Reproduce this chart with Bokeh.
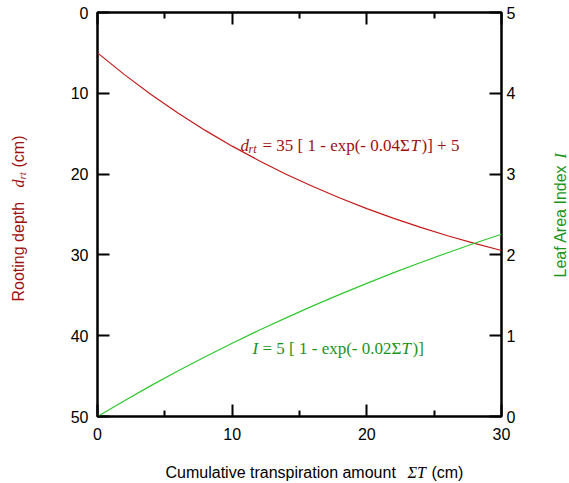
from bokeh.plotting import figure
from bokeh.models import Range1d, LinearAxis, FixedTicker, Label
from bokeh.embed import file_html
from bokeh.resources import INLINE
from math import pi

# ---- data ----
transpiration = [0, 2, 4, 6, 8, 10, 12, 14, 16, 18, 20, 22, 24, 26, 28, 30]
rooting_depth = [5.0, 7.69, 10.18, 12.47, 14.59, 16.54, 18.34, 20.01, 21.54, 22.96,
                 24.27, 25.48, 26.60, 27.63, 28.58, 29.46]
leaf_area_index = [0.0, 0.196, 0.385, 0.566, 0.739, 0.906, 1.067, 1.221, 1.369, 1.512,
                   1.648, 1.780, 1.906, 2.027, 2.144, 2.256]
depth_ticks = [0, 10, 20, 30, 40, 50]
lai_ticks = [0, 1, 2, 3, 4, 5]
x_ticks = [0, 10, 20, 30]
x_minor_ticks = [5, 15, 25]

W, H = 569, 483
L, R, T, B = 97, 501, 12, 416
XMAX, YMAX = 30.0, 50.0

RED_TXT = "#9e1010"
RED_LINE = "#c41a1a"
GRN_TXT = "#1a941a"
GRN_LINE = "#30c830"
SANS = "Liberation Sans"
SERIF = "Liberation Serif"

p = figure(width=W, height=H, output_backend="svg", toolbar_location=None,
           x_range=Range1d(0, XMAX), y_range=Range1d(YMAX, 0),
           min_border_left=L, min_border_right=W - R,
           min_border_top=T, min_border_bottom=H - B,
           x_axis_location=None, y_axis_location=None)
p.extra_y_ranges = {"lai": Range1d(0, 5)}
p.grid.visible = False
p.outline_line_color = "black"
p.outline_line_width = 2.5
p.background_fill_color = "white"
p.border_fill_color = "white"

common = dict(axis_line_color=None, major_tick_out=0, minor_tick_out=0,
              major_tick_line_color="black", minor_tick_line_color="black",
              major_tick_line_width=2, minor_tick_line_width=2,
              major_label_text_font=SANS, major_label_text_font_size="16px",
              major_label_text_color="black")

left = LinearAxis(ticker=FixedTicker(ticks=depth_ticks), major_tick_in=12,
                  minor_tick_in=0, major_label_standoff=9, **common)
p.add_layout(left, "left")
right = LinearAxis(y_range_name="lai", ticker=FixedTicker(ticks=lai_ticks),
                   major_tick_in=12, minor_tick_in=0, major_label_standoff=5, **common)
p.add_layout(right, "right")
bottom = LinearAxis(ticker=FixedTicker(ticks=x_ticks, minor_ticks=x_minor_ticks),
                    major_tick_in=12, minor_tick_in=6, major_label_standoff=11, **common)
p.add_layout(bottom, "below")
top = LinearAxis(ticker=FixedTicker(ticks=x_ticks, minor_ticks=x_minor_ticks),
                 major_tick_in=12, minor_tick_in=6, major_label_standoff=0, **common)
top.major_label_overrides = {t: "" for t in x_ticks}
p.add_layout(top, "above")

p.line(transpiration, rooting_depth, line_color=RED_LINE, line_width=1.2)
p.line(transpiration, leaf_area_index, y_range_name="lai", line_color=GRN_LINE, line_width=1.2)


def lab(text, X, Y, font=SANS, size=16, color="black", style="normal", angle=0.0,
        place="center"):
    # canvas pixel position -> data position through the plot's own linear scales
    xd = (X - L) / (R - L) * XMAX
    yd = (Y - T) / (B - T) * YMAX
    lbl = Label(x=xd, y=yd, text=text,
                text_font=font, text_font_size=f"{size}px", text_color=color,
                text_font_style=style, angle=angle, text_align="left",
                text_baseline="alphabetic")
    p.add_layout(lbl, place)


NB = "\u00a0"
# x axis label
lab("Cumulative transpiration amount" + NB * 8 + "(cm)", 165, 472, place="below")
lab("\u03a3T", 407, 472, font=SERIF, size=16, style="italic", place="below")

# left axis label (rotated)
lab("Rooting depth", 18, 301, color=RED_TXT, angle=pi / 2, place="left")
lab("d", 18, 187, font=SERIF, size=16, color=RED_TXT, style="italic", angle=pi / 2, place="left")
lab("rt", 21, 179, font=SERIF, size=11, color=RED_TXT, style="italic", angle=pi / 2, place="left")
lab("(cm)", 18, 167, color=RED_TXT, angle=pi / 2, place="left")

# right axis label (rotated)
lab("Leaf Area Index", 560, 277, color=GRN_TXT, angle=pi / 2, place="right")
lab("I", 560, 158, font=SERIF, size=16, color=GRN_TXT, style="italic", angle=pi / 2, place="right")

# red equation
lab("d", 240, 145, font=SERIF, size=17, color=RED_TXT, style="italic")
lab("rt", 248, 148, font=SERIF, size=12, color=RED_TXT, style="italic")
lab("= 35 [ 1 - exp(- 0.04\u03a3", 262, 145, font=SERIF, size=17, color=RED_TXT)
lab("T", 410, 145, font=SERIF, size=17, color=RED_TXT, style="italic")
lab(")] + 5", 421, 145, font=SERIF, size=17, color=RED_TXT)

# green equation
lab("I", 252, 348, font=SERIF, size=17, color=GRN_TXT, style="italic")
lab("= 5 [ 1 - exp(- 0.02\u03a3", 262, 348, font=SERIF, size=17, color=GRN_TXT)
lab("T", 401, 348, font=SERIF, size=17, color=GRN_TXT, style="italic")
lab(")]", 412, 348, font=SERIF, size=17, color=GRN_TXT)

open("out.html", "w").write(file_html(p, INLINE))
